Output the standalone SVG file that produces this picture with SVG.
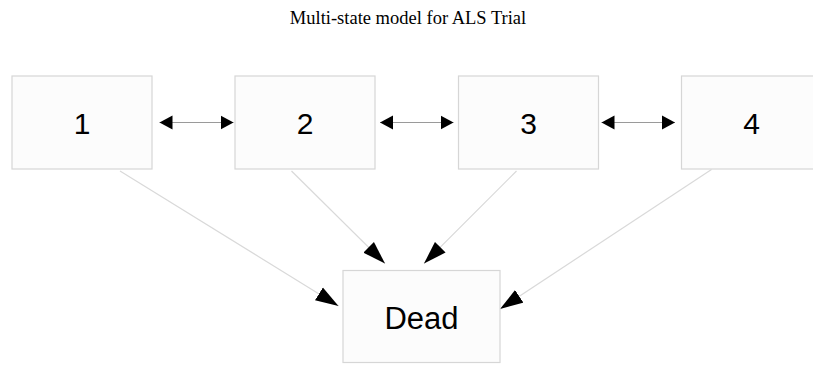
<svg xmlns="http://www.w3.org/2000/svg" width="813" height="365" viewBox="0 0 813 365">
<style>
.box{fill:#fcfcfc;stroke:#d6d6d6;stroke-width:1.2}
.lbl{font-family:"Liberation Sans",Arial,sans-serif;font-size:30px;fill:#000;text-anchor:middle}
.h{stroke:#9a9a9a;stroke-width:1;fill:none}
.d{stroke:#d9d9d9;stroke-width:1.2;fill:none}
.title{font-family:"Liberation Serif","Times New Roman",serif;font-size:18.5px;fill:#000;text-anchor:middle}
</style>
<defs>
<marker id="ah" markerUnits="userSpaceOnUse" markerWidth="14" markerHeight="15" refX="13" refY="7" orient="auto-start-reverse" viewBox="0 0 14 14">
<path d="M0,0 L13,7 L0,14 z" fill="#000"/>
</marker>
<marker id="ad" markerUnits="userSpaceOnUse" markerWidth="24" markerHeight="16" refX="23" refY="7.5" orient="auto" viewBox="0 0 24 15">
<path d="M0,0 L23,7.5 L0,15 z" fill="#000"/>
</marker>
</defs>
<rect width="813" height="365" fill="#fff"/>
<text class="title" x="408" y="23.5">Multi-state model for ALS Trial</text>
<g id="connectors">
<line class="h" x1="159.5" y1="122.5" x2="233.5" y2="122.5" marker-start="url(#ah)" marker-end="url(#ah)"/>
<line class="h" x1="380" y1="122.5" x2="453.5" y2="122.5" marker-start="url(#ah)" marker-end="url(#ah)"/>
<line class="h" x1="601.5" y1="122.5" x2="675" y2="122.5" marker-start="url(#ah)" marker-end="url(#ah)"/>
<line class="d" x1="120" y1="171" x2="338.5" y2="306" marker-end="url(#ad)"/>
<line class="d" x1="291.5" y1="171" x2="385" y2="263.5" marker-end="url(#ad)"/>
<line class="d" x1="516.5" y1="171" x2="424" y2="263.5" marker-end="url(#ad)"/>
<line class="d" x1="711.5" y1="169.5" x2="500" y2="309" marker-end="url(#ad)"/>
</g>
<g id="node1"><rect class="box" x="12" y="76" width="140" height="93"/><text class="lbl" x="82" y="134">1</text></g>
<g id="node2"><rect class="box" x="235" y="76" width="140" height="93"/><text class="lbl" x="305" y="134">2</text></g>
<g id="node3"><rect class="box" x="458.5" y="76" width="140" height="93"/><text class="lbl" x="528.5" y="134">3</text></g>
<g id="node4"><rect class="box" x="681.5" y="76" width="140" height="93"/><text class="lbl" x="751.5" y="134">4</text></g>
<g id="dead"><rect class="box" x="343" y="270.5" width="157" height="92"/><text class="lbl" x="421.5" y="329" style="font-size:31px">Dead</text></g>
</svg>
